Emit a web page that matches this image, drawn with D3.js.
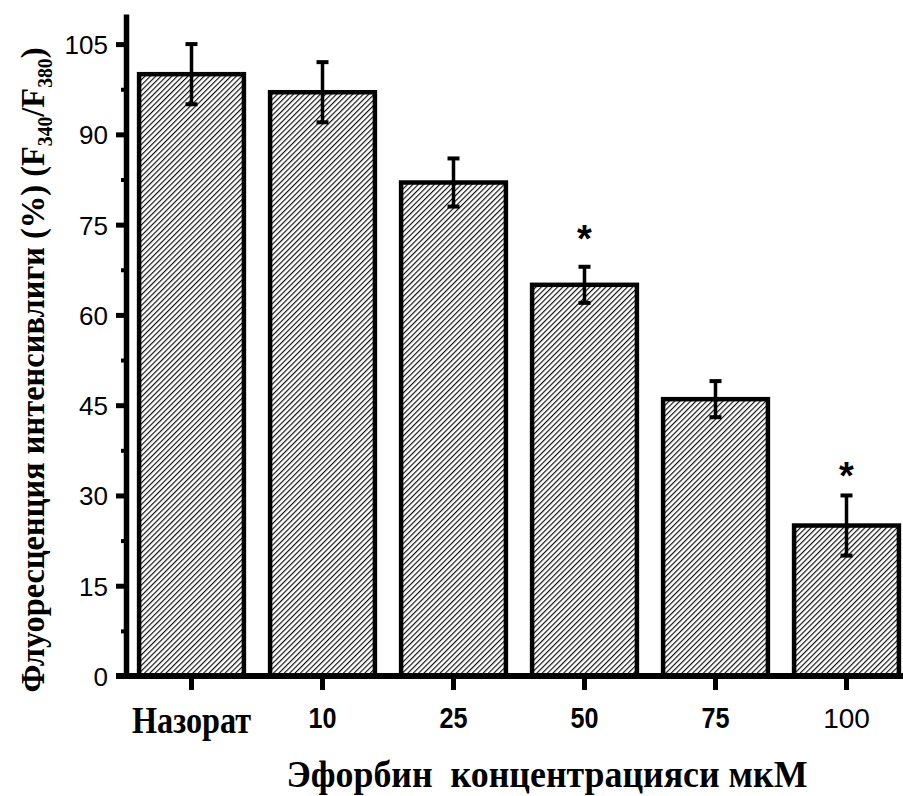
<!DOCTYPE html>
<meta charset="utf-8">
<script src="https://cdn.jsdelivr.net/npm/d3@7"></script>
<style>
body { margin: 0; background: #fff; }
.ytick text { font: 26px "Liberation Sans", Arial, sans-serif; fill: #000; }
</style>
<body>
<script>

let width = 903,
    height = 796;

// data
let categories = ['Назорат', '10', '25', '50', '75', '100'];
let means = [100, 97, 82, 65, 46, 25];
let errors = [5, 5, 4, 3, 3, 5];
let starAt = [null, null, null, 73, null, 33.5];
let yTicks = [0, 15, 30, 45, 60, 75, 90, 105];
let yMinor = [7.5, 22.5, 37.5, 52.5, 67.5, 82.5, 97.5];

let svg = d3.select('body').append('svg')
    .attr('width', width)
    .attr('height', height);

let y = d3.scaleLinear().domain([0, 110]).range([676, 14]);
let x = d3.scaleBand().domain(categories).range([126, 912])
    .paddingInner(0.2).paddingOuter(0.1);

// hatch fill
svg.append('defs').append('pattern')
    .attr('id', 'hatch')
    .attr('patternUnits', 'userSpaceOnUse')
    .attr('width', 3.8)
    .attr('height', 10)
    .attr('patternTransform', 'rotate(45)')
  .append('line')
    .attr('x1', 0.6).attr('y1', 0)
    .attr('x2', 0.6).attr('y2', 10)
    .attr('stroke', '#000')
    .attr('stroke-width', 1.1);

// bars
svg.selectAll('.bar')
  .data(means)
  .enter().append('rect')
    .attr('class', 'bar')
    .attr('x', (d, i) => x(categories[i]))
    .attr('y', d => y(d))
    .attr('width', x.bandwidth())
    .attr('height', d => y(0) - y(d))
    .attr('fill', 'url(#hatch)')
    .attr('stroke', '#000')
    .attr('stroke-width', 4.5);

// error bars
let eb = svg.selectAll('.err')
  .data(means)
  .enter().append('g')
    .attr('class', 'err')
    .attr('transform', (d, i) => 'translate(' + (x(categories[i]) + x.bandwidth() / 2) + ',0)');

eb.append('line')
    .attr('y1', (d, i) => y(d + errors[i]))
    .attr('y2', (d, i) => y(d - errors[i]))
    .attr('stroke', '#000').attr('stroke-width', 3.5);
eb.append('line')
    .attr('x1', -6).attr('x2', 6)
    .attr('y1', (d, i) => y(d + errors[i]))
    .attr('y2', (d, i) => y(d + errors[i]))
    .attr('stroke', '#000').attr('stroke-width', 4);
eb.append('line')
    .attr('x1', -6).attr('x2', 6)
    .attr('y1', (d, i) => y(d - errors[i]))
    .attr('y2', (d, i) => y(d - errors[i]))
    .attr('stroke', '#000').attr('stroke-width', 4);

// significance stars
svg.selectAll('.star')
  .data(starAt.map((s, i) => ({s: s, c: categories[i]})).filter(d => d.s !== null))
  .enter().append('text')
    .attr('class', 'star')
    .attr('x', d => x(d.c) + x.bandwidth() / 2)
    .attr('y', d => y(d.s) + 15)
    .attr('text-anchor', 'middle')
    .style('font', 'bold 38px "Liberation Sans", Arial, sans-serif')
    .text('*');

// y axis
let yAxis = svg.append('g')
    .attr('class', 'ytick')
    .attr('transform', 'translate(126,0)')
    .call(d3.axisLeft(y).tickValues(yTicks).tickSize(10).tickSizeOuter(0).tickPadding(8));
yAxis.select('.domain').attr('stroke-width', 5.5);
yAxis.selectAll('.tick line').attr('stroke-width', 5);
yAxis.selectAll('.tick text').attr('dy', '0.36em');

let yMin = svg.append('g')
    .attr('transform', 'translate(126,0)')
    .call(d3.axisLeft(y).tickValues(yMinor).tickSize(5).tickFormat(''));
yMin.select('.domain').remove();
yMin.selectAll('.tick line').attr('stroke-width', 4);

// x axis
let xAxis = svg.append('g')
    .attr('transform', 'translate(0,677)')
    .call(d3.axisBottom(x).tickSize(13).tickSizeOuter(0).tickFormat(''));
xAxis.select('.domain').remove();
xAxis.selectAll('.tick line').attr('stroke-width', 5);
svg.append('line')
    .attr('x1', 116).attr('x2', width)
    .attr('y1', y(0)).attr('y2', y(0))
    .attr('stroke', '#000').attr('stroke-width', 6);

// x tick labels, styled as in the original figure
svg.selectAll('.xlab')
  .data(categories)
  .enter().append('text')
    .attr('class', 'xlab')
    .attr('x', d => x(d) + x.bandwidth() / 2)
    .attr('y', (d, i) => i === 0 ? 733 : 728)
    .attr('text-anchor', 'middle')
    .style('font', (d, i) => i === 0 ? 'bold 38px "Liberation Serif", serif'
                         : i === 5 ? '28px "Liberation Sans", Arial, sans-serif'
                         : 'bold 29px "Liberation Sans", Arial, sans-serif')
    .attr('textLength', (d, i) => i === 0 ? 119 : i === 5 ? null : 28)
    .attr('lengthAdjust', 'spacingAndGlyphs')
    .text(d => d);

// axis titles
svg.append('text')
    .attr('x', 547)
    .attr('y', 787)
    .attr('text-anchor', 'middle')
    .attr('textLength', 521)
    .attr('lengthAdjust', 'spacingAndGlyphs')
    .style('font', 'bold 38px "Liberation Serif", serif')
    .style('white-space', 'pre')
    .text('Эфорбин  концентрацияси мкМ');

let yt = svg.append('text')
    .attr('transform', 'translate(44,370) rotate(-90)')
    .attr('text-anchor', 'middle')
    .attr('textLength', 645)
    .attr('lengthAdjust', 'spacingAndGlyphs')
    .style('font', 'bold 33px "Liberation Serif", serif');
yt.append('tspan').text('Флуоресценция интенсивлиги (%) (F');
yt.append('tspan').attr('dy', 8).style('font-size', '20px').text('340');
yt.append('tspan').attr('dy', -8).text('/F');
yt.append('tspan').attr('dy', 8).style('font-size', '20px').text('380');
yt.append('tspan').attr('dy', -8).text(')');

</script>
</body>
